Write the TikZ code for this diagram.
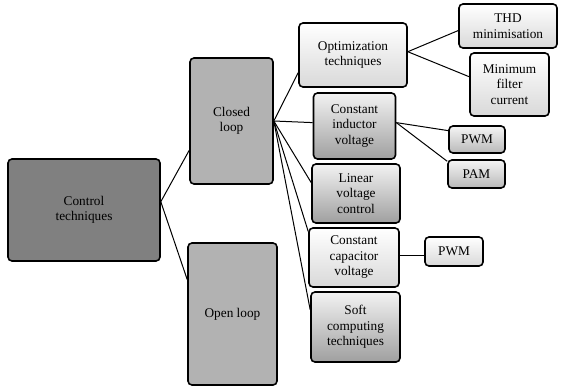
\documentclass[tikz,border=0pt]{standalone}
\usepackage{fontspec}
\setmainfont{Liberation Serif}
\newfontfamily\tnr{Liberation Serif}
\usetikzlibrary{calc}
\begin{document}
\begin{tikzpicture}[x=1pt,y=-1pt, font=\tnr\fontsize{13.3}{15.5}\selectfont, line width=1pt,
  box/.style={draw,line width=1.6pt,rounded corners=4pt,align=center,inner sep=1pt},
  flat/.style={box,fill=#1}, lite/.style={box,top color=white,bottom color=gray!30},
  dark/.style={box,top color=gray!10,bottom color=gray!75},
  mid/.style={box,top color=gray!8,bottom color=gray!55}]
  \useasboundingbox (0,0) rectangle (561,387);
  \node[flat=black!50,minimum width=152,minimum height=102](ct) at (84,210){Control\\techniques};
  \node[flat=black!30,minimum width=83,minimum height=126](cl) at (231.5,121){Closed\\loop};
  \node[flat=black!30,minimum width=89,minimum height=142](ol) at (232.5,314){Open loop};
  \node[lite,minimum width=108,minimum height=64](opt) at (353,55){Optimization\\techniques};
  \node[lite,minimum width=98,minimum height=44](thd) at (508,26){THD\\minimisation};
  \node[lite,minimum width=79,minimum height=63](mfc) at (509.5,84.5){Minimum\\filter\\current};
  \node[dark,minimum width=82,minimum height=66](civ) at (354.5,126){Constant\\inductor\\voltage};
  \node[mid,minimum width=56,minimum height=27](pwma) at (477,139.5){PWM};
  \node[mid,minimum width=57,minimum height=28](pam) at (476.5,174){PAM};
  \node[dark,minimum width=88,minimum height=59](lvc) at (356,193.5){Linear\\voltage\\control};
  \node[lite,minimum width=90,minimum height=59](ccv) at (354,257.5){Constant\\capacitor\\voltage};
  \node[lite,minimum width=58,minimum height=29](pwmb) at (454,251.5){PWM};
  \node[dark,minimum width=89,minimum height=70](sct) at (355.5,327){Soft\\computing\\techniques};
  \draw ($(ct.north east)!0.42!(ct.south east)$) -- ($(cl.north west)!0.73!(cl.south west)$);
  \draw ($(ct.north east)!0.42!(ct.south east)$) -- ($(ol.north west)!0.26!(ol.south west)$);
  \draw (cl.east) -- ($(opt.north west)!0.77!(opt.south west)$);
  \draw (cl.east) -- ($(civ.north west)!0.45!(civ.south west)$);
  \draw (cl.east) -- ($(lvc.north west)!0.32!(lvc.south west)$);
  \draw (cl.east) -- ($(ccv.north west)!0.07!(ccv.south west)$);
  \draw (cl.east) -- ($(sct.north west)!0.26!(sct.south west)$);
  \draw ($(opt.north east)!0.45!(opt.south east)$) -- ($(thd.north west)!0.6!(thd.south west)$);
  \draw ($(opt.north east)!0.45!(opt.south east)$) -- ($(mfc.north west)!0.38!(mfc.south west)$);
  \draw ($(civ.north east)!0.45!(civ.south east)$) -- ($(pwma.north west)!0.19!(pwma.south west)$);
  \draw ($(civ.north east)!0.45!(civ.south east)$) -- ($(pam.north west)!0.07!(pam.south west)$);
  \draw ($(ccv.north east)!0.46!(ccv.south east)$) coordinate(cce) -- (cce -| pwmb.west);
\end{tikzpicture}
\end{document}
